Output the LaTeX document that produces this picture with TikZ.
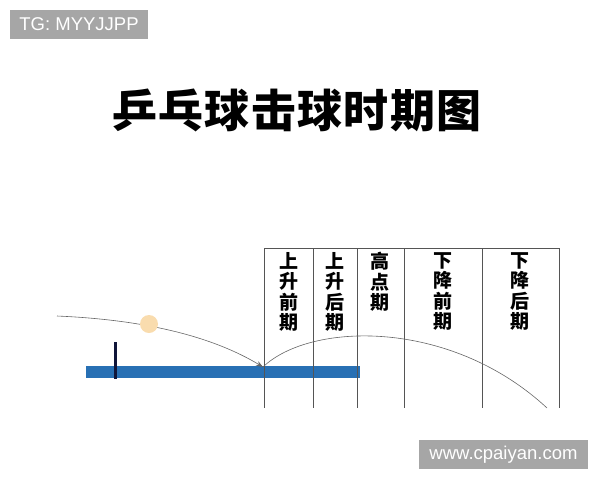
\documentclass[tikz,border=0pt]{standalone}
\usepackage{fontspec}
\setmainfont{Liberation Sans}
\newfontfamily\cjk{Noto Sans CJK SC}
\usetikzlibrary{arrows.meta}
\definecolor{wmgray}{HTML}{A6A6A6}
\definecolor{tablebar}{HTML}{2870B4}
\definecolor{ballcol}{HTML}{F9DCAE}
\definecolor{postcol}{HTML}{10163A}
\definecolor{gridline}{HTML}{555555}
\definecolor{pathline}{HTML}{666666}
\tikzset{
  wmbox/.style={fill=wmgray, text=white, inner sep=0pt, font=\fontsize{18.5}{18.5}\selectfont},
  colline/.style={draw=gridline, line width=0.7pt},
  collabel/.style={font=\cjk\bfseries\fontsize{19}{20.5}\selectfont, align=center, anchor=north, inner sep=0pt, text width=20pt},
  balltrack/.style={draw=pathline, line width=0.6pt},
}
\begin{document}
\begin{tikzpicture}[x=1pt,y=-1pt]
\useasboundingbox (0,0) rectangle (600,480);
% watermarks
\node[wmbox, minimum width=138pt, minimum height=29pt] (wm1) at (79,24.5) {TG: MYYJJPP};
\node[wmbox, minimum width=169pt, minimum height=29pt] (wm2) at (503.5,454.5) {www.cpaiyan.com};
% title
\node[font=\cjk\bfseries\fontsize{45}{45}\selectfont\addfontfeature{LetterSpace=3}, inner sep=0pt] (title) at (297,110) {乒乓球击球时期图};
% table
\fill[tablebar] (86,366) rectangle (360,378);
\node[fill=postcol, minimum width=3pt, minimum height=37pt, inner sep=0pt] (post) at (115,360.5) {};
% grid
\coordinate (t1) at (264,248); \coordinate (b1) at (264,408);
\coordinate (t2) at (313,248); \coordinate (b2) at (313,408);
\coordinate (t3) at (357,248); \coordinate (b3) at (357,408);
\coordinate (t4) at (404,248); \coordinate (b4) at (404,408);
\coordinate (t5) at (482,248); \coordinate (b5) at (482,408);
\coordinate (t6) at (559,248); \coordinate (b6) at (559,408);
\draw[colline] (t1) -- (t6);
\foreach \i in {1,...,6} { \draw[colline] (t\i) -- (b\i); }
% labels
\node[collabel] (l1) at (288.5,252) {上\\升\\前\\期};
\node[collabel] (l2) at (335,252) {上\\升\\后\\期};
\node[collabel] (l3) at (380,252) {高\\点\\期};
\node[collabel] (l4) at (443,252) {下\\降\\前\\期};
\node[collabel] (l5) at (520,252) {下\\降\\后\\期};
% ball path
\coordinate (start) at (57,316);
\coordinate (bounce) at (263,367);
\coordinate (finish) at (547,408);
\draw[balltrack, -{Stealth[length=7pt,width=5pt]}] (start) .. controls (150,320) and (215,338) .. (bounce);
\draw[balltrack] (bounce) .. controls (310,322) and (450,318) .. (finish);
\node[circle, fill=ballcol, minimum size=18pt, inner sep=0pt] (ball) at (149,324) {};
\end{tikzpicture}
\end{document}
